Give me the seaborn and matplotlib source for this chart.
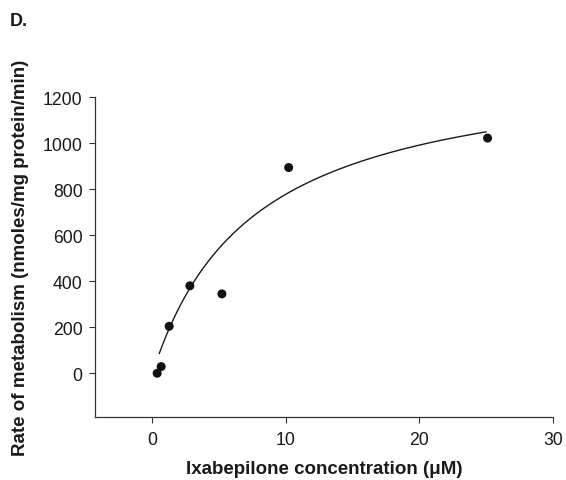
import numpy as np
import pandas as pd
import matplotlib
matplotlib.use("Agg")
import matplotlib.pyplot as plt
import seaborn as sns

# measured points (concentration in uM, rate in nmoles/mg protein/min)
conc = [0.35, 0.65, 1.25, 2.8, 5.2, 10.2, 25.1]
rate = [0, 29, 204, 380, 345, 894, 1022]

# Michaelis-Menten fit parameters
vmax = 1366
km = 7.55
fit_start, fit_end = 0.5, 25.0

x_ticks = [0, 10, 20, 30]
y_ticks = [0, 200, 400, 600, 800, 1000, 1200]

sns.set_theme(style="ticks")
plt.rcParams["font.family"] = ["Liberation Sans", "DejaVu Sans"]

df = pd.DataFrame({"conc": conc, "rate": rate})
s = np.linspace(fit_start, fit_end, 200)
fit = pd.DataFrame({"conc": s, "rate": vmax * s / (km + s)})

fig = plt.figure(figsize=(5.66, 4.81), dpi=100)
ax = fig.add_axes([0.168, 0.131, 0.809, 0.665])

sns.lineplot(data=fit, x="conc", y="rate", color="#1a1a1a", linewidth=1.0, ax=ax)
sns.scatterplot(data=df, x="conc", y="rate", color="#111111", s=42,
                edgecolor="none", ax=ax, zorder=3)

ax.set_xlim(-4.3, 30)
ax.set_ylim(-190, 1200)
ax.set_xticks(x_ticks)
ax.set_yticks(y_ticks)
ax.tick_params(labelsize=12.7, length=4, width=0.8, colors="#333333",
               labelcolor="#1a1a1a")
ax.tick_params(axis="x", pad=6)
ax.tick_params(axis="y", pad=5)
for side in ["left", "bottom"]:
    ax.spines[side].set_linewidth(0.9)
    ax.spines[side].set_color("#333333")
sns.despine(ax=ax)

ax.set_xlabel("Ixabepilone concentration (\u03bcM)", fontsize=13.5,
              fontweight="bold", labelpad=9, color="#1a1a1a")
ax.set_ylabel("Rate of metabolism (nmoles/mg protein/min)", fontsize=13.5,
              fontweight="bold", labelpad=10, color="#1a1a1a")

fig.text(0.018, 0.955, "D.", fontsize=13, fontweight="bold", va="center",
         color="#1a1a1a")

fig.savefig("out.png", dpi=100)
